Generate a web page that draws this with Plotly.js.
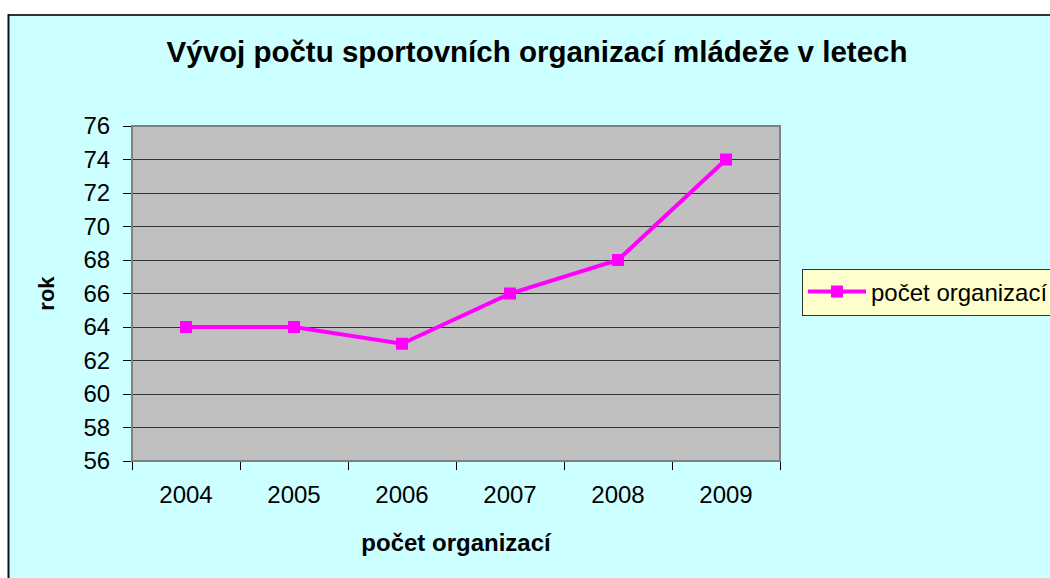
<!DOCTYPE html>
<html>
<head>
<meta charset="utf-8">
<script src="https://cdn.plot.ly/plotly-3.0.1.min.js"></script>
<style>
html,body{margin:0;padding:0;background:#ffffff;overflow:hidden;}
#chart{width:1050px;height:578px;}
</style>
</head>
<body>
<div id="chart"></div>
<script>
var years = ['2004', '2005', '2006', '2007', '2008', '2009'];
var counts = [64, 64, 63, 66, 68, 74];
var seriesName = 'počet organizací';
var chartTitle = 'Vývoj počtu sportovních organizací mládeže v letech';
var xTitle = 'počet organizací';
var yTitle = 'rok';

var W = 1050, H = 578;
var L = 132, R = 780, T = 126, B = 461;
var pw = R - L, ph = B - T;
function px(x) { return (x - L) / pw; }
function py(y) { return (B - y) / ph; }

var font = 'Arial, "Liberation Sans", sans-serif';

var trace = {
  x: years,
  y: counts,
  type: 'scatter',
  mode: 'lines+markers',
  name: seriesName,
  line: {color: '#FF00FF', width: 4},
  marker: {symbol: 'square', size: 12, color: '#FF00FF'}
};

var layout = {
  width: W, height: H,
  margin: {l: L, r: W - R, t: T, b: H - B, pad: 0},
  paper_bgcolor: '#CCFFFF',
  plot_bgcolor: '#C0C0C0',
  showlegend: true,
  title: {
    text: '<b>' + chartTitle + '</b>',
    font: {family: font, size: 29.5, color: '#000000'},
    x: px(537), xref: 'paper', xanchor: 'center',
    y: 1 - 52 / H, yref: 'container', yanchor: 'middle'
  },
  xaxis: {
    type: 'category',
    range: [-0.5, 5.5],
    showgrid: false,
    zeroline: false,
    showline: true, linecolor: '#000000', linewidth: 1,
    ticks: 'outside', tickson: 'boundaries', ticklen: 8, tickcolor: '#000000', tickwidth: 1,
    ticklabelstandoff: 12,
    tickfont: {family: font, size: 24, color: '#000000'},
    title: {text: '<b>' + xTitle + '</b>', font: {family: font, size: 24, color: '#000000'}, standoff: 27},
    fixedrange: true
  },
  yaxis: {
    range: [56, 76],
    dtick: 2,
    tick0: 56,
    showgrid: true, gridcolor: '#333333', gridwidth: 1,
    zeroline: false,
    showline: true, linecolor: '#000000', linewidth: 1,
    ticks: 'outside', ticklen: 8, tickcolor: '#000000', tickwidth: 1,
    ticklabelstandoff: 8,
    tickfont: {family: font, size: 24, color: '#000000'},
    title: {text: '<b>' + yTitle + '</b>', font: {family: font, size: 22, color: '#000000'}, standoff: 22},
    fixedrange: true
  },
  legend: {
    xref: 'container', yref: 'container',
    x: 802 / W, xanchor: 'left',
    y: 1 - 292 / H, yanchor: 'middle',
    bgcolor: '#FFFFCC',
    bordercolor: '#333333', borderwidth: 1,
    font: {family: font, size: 24, color: '#000000'},
    itemwidth: 58,
    tracegroupgap: 0
  },
  shapes: [
    {type: 'rect', xref: 'paper', yref: 'paper', x0: px(-20), x1: px(1100), y0: py(14), y1: py(-20),
     fillcolor: '#FFFFFF', line: {width: 0}, layer: 'below'},
    {type: 'rect', xref: 'paper', yref: 'paper', x0: px(-20), x1: px(8), y0: py(620), y1: py(-20),
     fillcolor: '#FFFFFF', line: {width: 0}, layer: 'below'},
    {type: 'line', xref: 'paper', yref: 'paper', x0: px(8), x1: px(1100), y0: py(15), y1: py(15),
     line: {color: '#333333', width: 2}, layer: 'below'},
    {type: 'line', xref: 'paper', yref: 'paper', x0: px(8.5), x1: px(8.5), y0: py(14), y1: py(620),
     line: {color: '#111111', width: 2}, layer: 'below'},
    {type: 'rect', xref: 'paper', yref: 'paper', x0: 0, x1: 1, y0: 0, y1: 1,
     fillcolor: 'rgba(0,0,0,0)', line: {color: '#808080', width: 2}, layer: 'above'}
  ]
};

Plotly.newPlot('chart', [trace], layout, {displayModeBar: false, staticPlot: true});
</script>
</body>
</html>
